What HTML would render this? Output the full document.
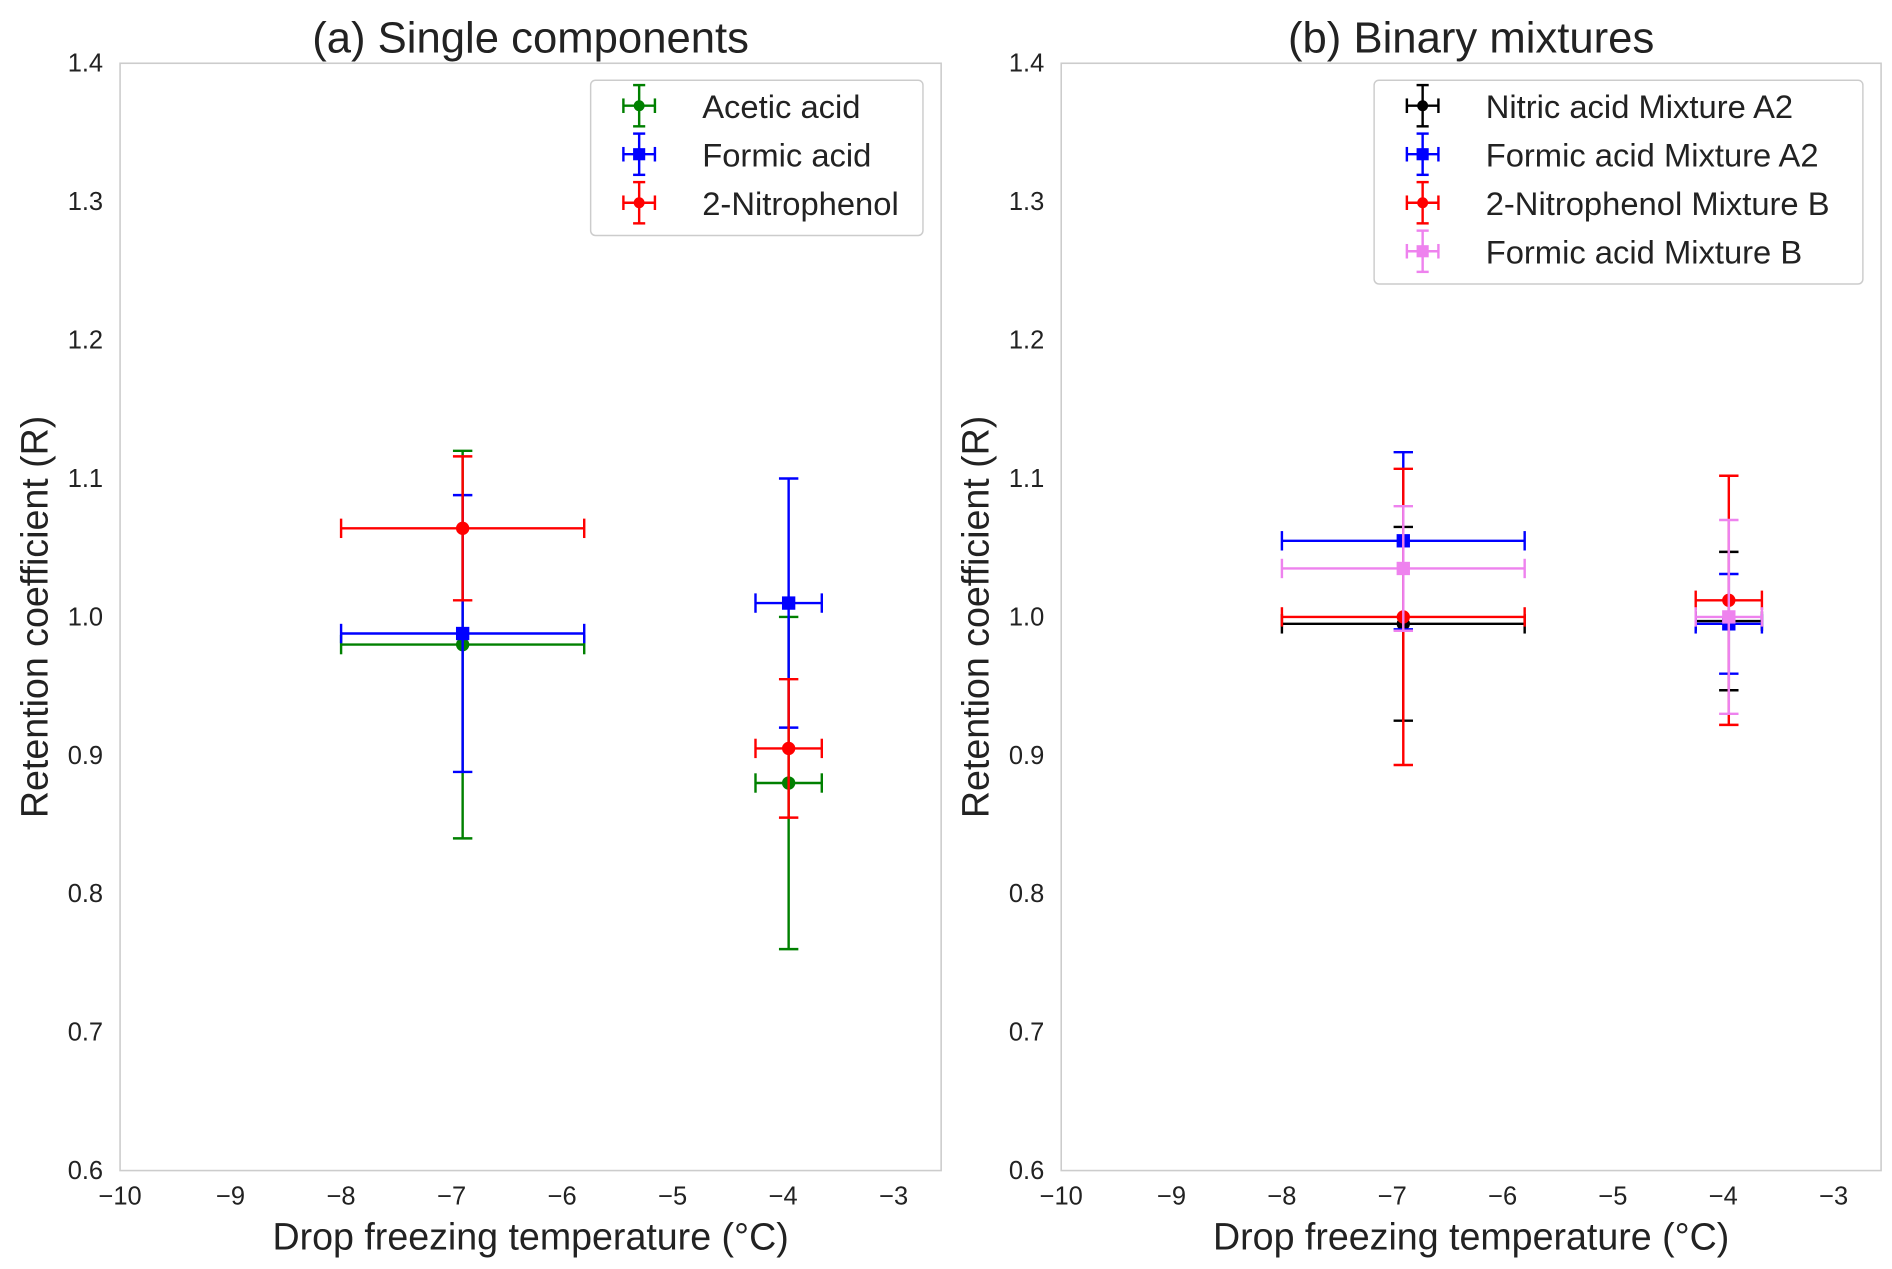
<!DOCTYPE html>
<html><head><meta charset="utf-8">
<style>
html,body{margin:0;padding:0;background:#fff;}
svg{display:block;font-family:"Liberation Sans",sans-serif;}
</style></head>
<body>
<svg id="fig" width="1892" height="1269" viewBox="0 0 1560 1046" xmlns="http://www.w3.org/2000/svg">
<rect width="1560" height="1046" fill="#fff"/>
</svg>
<script>
const xTicks = [-10,-9,-8,-7,-6,-5,-4,-3];
const yTicks = [0.6,0.7,0.8,0.9,1.0,1.1,1.2,1.3,1.4];
const xT = [-6.9, -3.95];
const xErr = [1.1, 0.3];
// panel a
const aNames = ["Acetic acid","Formic acid","2-Nitrophenol"];
const aColors = ["green","blue","red"];
const aMarkers = ["o","s","o"];
const aY = [[0.98,0.88],[0.988,1.01],[1.064,0.905]];
const aYErr = [[0.14,0.12],[0.1,0.09],[0.052,0.05]];
// panel b
const bNames = ["Nitric acid Mixture A2","Formic acid Mixture A2","2-Nitrophenol Mixture B","Formic acid Mixture B"];
const bColors = ["black","blue","red","violet"];
const bMarkers = ["o","s","o","s"];
const bY = [[0.995,0.997],[1.055,0.995],[1.0,1.012],[1.035,1.0]];
const bYErr = [[0.07,0.05],[0.064,0.036],[0.107,0.09],[0.045,0.07]];

const NS="http://www.w3.org/2000/svg";
const svg=document.getElementById('fig');
function mk(tag,attrs,parent,text){const e=document.createElementNS(NS,tag);for(const k in attrs)e.setAttribute(k,attrs[k]);if(text!==undefined)e.textContent=text;(parent||svg).appendChild(e);return e;}

function panel(x0,x1,title,names,colors,markers,Y,YE,legW,tag){
  const y0=52,y1=965,xmin=-10,xmax=-2.57,ymin=0.6,ymax=1.4;
  const sx=v=>x0+(v-xmin)/(xmax-xmin)*(x1-x0);
  const sy=v=>y1-(v-ymin)/(ymax-ymin)*(y1-y0);
  const g=mk('g',{});
  
  
  const fr=mk('rect',{x:x0,y:y0,width:x1-x0,height:y1-y0,fill:'none',stroke:'#cccccc','stroke-width':1.3},g);
  
  
  xTicks.forEach(t=>{
    const e=mk('text',{x:sx(t),y:993,'font-size':21,'text-anchor':'middle',fill:'#222'},g,(t<0?'\u2212':'')+Math.abs(t));
    
    
  });
  yTicks.forEach(t=>{
    const e=mk('text',{x:x0-14,y:sy(t)+7,'font-size':21,'text-anchor':'end',fill:'#222'},g,t.toFixed(1));
    
    
  });
  const xl=mk('text',{x:(x0+x1)/2,y:1030,'font-size':31,'text-anchor':'middle',fill:'#222'},g,'Drop freezing temperature (\u00b0C)');
  
  
  const yl=mk('text',{x:0,y:0,'font-size':31,'text-anchor':'middle',fill:'#222',transform:`translate(${x0-60},${(y0+y1)/2}) rotate(-90)`},g,'Retention coefficient (R)');
  
  
  const tt=mk('text',{x:(x0+x1)/2,y:43,'font-size':36,'text-anchor':'middle',fill:'#222'},g,title);
  
  
  names.forEach((n,i)=>{
    const sg=mk('g',{},g);
    
    
    const c=colors[i];
    xT.forEach((xv,j)=>{
      const cx=sx(xv),cy=sy(Y[i][j]);
      const xa=sx(xv-xErr[j]),xb=sx(xv+xErr[j]);
      const ya=sy(Y[i][j]-YE[i][j]),yb=sy(Y[i][j]+YE[i][j]);
      mk('line',{x1:xa,y1:cy,x2:xb,y2:cy,stroke:c,'stroke-width':2},sg);
      mk('line',{x1:xa,y1:cy-8,x2:xa,y2:cy+8,stroke:c,'stroke-width':2},sg);
      mk('line',{x1:xb,y1:cy-8,x2:xb,y2:cy+8,stroke:c,'stroke-width':2},sg);
      mk('line',{x1:cx,y1:ya,x2:cx,y2:yb,stroke:c,'stroke-width':2},sg);
      mk('line',{x1:cx-8,y1:ya,x2:cx+8,y2:ya,stroke:c,'stroke-width':2},sg);
      mk('line',{x1:cx-8,y1:yb,x2:cx+8,y2:yb,stroke:c,'stroke-width':2},sg);
      let m;
      if(markers[i]==='s') m=mk('rect',{x:cx-5.5,y:cy-5.5,width:11,height:11,fill:c},sg);
      else m=mk('circle',{cx:cx,cy:cy,r:5.5,fill:c},sg);
      
      
    });
  });
  // legend
  const lx=x1-15-legW, ly=66, lh=40*names.length+8;
  const lg=mk('g',{},g);
  
  
  mk('rect',{x:lx,y:ly,width:legW,height:lh,rx:4,fill:'#fff',stroke:'#cccccc','stroke-width':1.2},lg);
  names.forEach((n,i)=>{
    const cy=ly+21+40*i, cx=lx+40, c=colors[i];
    const eg=mk('g',{},lg);
    
    
    mk('line',{x1:cx-13,y1:cy,x2:cx+13,y2:cy,stroke:c,'stroke-width':2},eg);
    mk('line',{x1:cx,y1:cy-17,x2:cx,y2:cy+17,stroke:c,'stroke-width':2},eg);
    mk('line',{x1:cx-5,y1:cy-17,x2:cx+5,y2:cy-17,stroke:c,'stroke-width':2},eg);
    mk('line',{x1:cx-5,y1:cy+17,x2:cx+5,y2:cy+17,stroke:c,'stroke-width':2},eg);
    mk('line',{x1:cx-13,y1:cy-6,x2:cx-13,y2:cy+6,stroke:c,'stroke-width':2},eg);
    mk('line',{x1:cx+13,y1:cy-6,x2:cx+13,y2:cy+6,stroke:c,'stroke-width':2},eg);
    if(markers[i]==='s') mk('rect',{x:cx-5,y:cy-5,width:10,height:10,fill:c},eg);
    else mk('circle',{cx:cx,cy:cy,r:4.5,fill:c},eg);
    mk('text',{x:lx+92,y:cy+10,'font-size':27,fill:'#222'},eg,n);
  });
}
panel(99,776,'(a) Single components',aNames,aColors,aMarkers,aY,aYErr,274,'a');
panel(875,1551,'(b) Binary mixtures',bNames,bColors,bMarkers,bY,bYErr,403,'b');
</script>
</body></html>
